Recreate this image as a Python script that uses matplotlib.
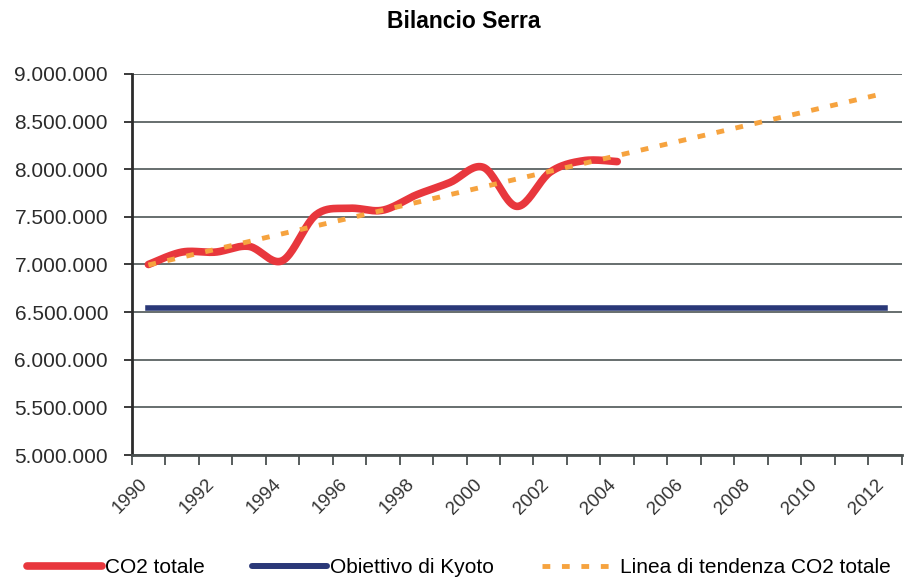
import numpy as np
import matplotlib.pyplot as plt
import matplotlib.transforms as mtransforms
from matplotlib.lines import Line2D
from matplotlib.ticker import FuncFormatter, MultipleLocator

plt.rcParams['font.family'] = ['Liberation Sans', 'DejaVu Sans']

# dati
anni = list(range(1990, 2005))
co2_totale = [7000000, 7130000, 7130000, 7190000, 7040000, 7520000, 7590000,
              7570000, 7730000, 7860000, 8020000, 7610000, 7970000, 8090000,
              8080000]
anni_kyoto = [1990, 2012]
obiettivo_kyoto = [6545000, 6545000]
anni_tendenza = [1990, 2012]
etichette_anni = list(range(1990, 2013, 2))
etichette_legenda = ['CO2 totale', 'Obiettivo di Kyoto', 'Linea di tendenza CO2 totale']

ROSSO = '#e8373d'
BLU = '#2a3878'
ARANCIO = '#f6a33f'


def smussa(x, y, n=24):
    # curva smussata tipo Excel (Bezier con punti di controllo a 1/6)
    x = np.asarray(x, float)
    y = np.asarray(y, float)
    px = np.concatenate([[x[0]], x, [x[-1]]])
    py = np.concatenate([[y[0]], y, [y[-1]]])
    t = np.linspace(0, 1, n)[:, None]
    out = []
    for i in range(len(x) - 1):
        p0 = np.array([px[i], py[i]])
        p1 = np.array([px[i + 1], py[i + 1]])
        p2 = np.array([px[i + 2], py[i + 2]])
        p3 = np.array([px[i + 3], py[i + 3]])
        c1 = p1 + (p2 - p0) / 6
        c2 = p2 - (p3 - p1) / 6
        seg = ((1 - t) ** 3) * p1 + 3 * ((1 - t) ** 2) * t * c1 + 3 * (1 - t) * t ** 2 * c2 + t ** 3 * p2
        out.append(seg if i == 0 else seg[1:])
    out = np.vstack(out)
    return out[:, 0], out[:, 1]


fig = plt.figure(figsize=(9.05, 5.8), dpi=100)
ax = fig.add_axes([0.1455, 0.2155, 0.851, 0.657])

coef = np.polyfit(anni, co2_totale, 1)
tend = np.polyval(coef, anni_tendenza)

sx, sy = smussa(anni, co2_totale)
ax.plot(anni_kyoto, obiettivo_kyoto, color=BLU, lw=4.0, solid_capstyle='projecting', zorder=3)
ax.plot(sx, sy, color=ROSSO, lw=5.5, solid_capstyle='round', zorder=4)
ax.plot(anni_tendenza, tend, color=ARANCIO, lw=3.5, dashes=(1.6, 2.4),
        dash_capstyle='butt', zorder=5)

ax.set_xlim(1989.5, 2012.5)
ax.set_ylim(5000000, 9000000)
ax.yaxis.set_major_locator(MultipleLocator(500000))
ax.yaxis.set_major_formatter(FuncFormatter(lambda v, p: f'{v:,.0f}'.replace(',', '.')))
ax.set_xticks(etichette_anni)
ax.set_xticklabels([str(a) for a in etichette_anni])
ax.set_xticks(np.arange(1989.5, 2013, 1), minor=True)

ax.grid(axis='y', color='#5b6262', lw=1.3)
ax.set_axisbelow(True)
for s in ['top', 'right']:
    ax.spines[s].set_visible(False)
ax.spines['left'].set_linewidth(2)
ax.spines['left'].set_color('#2b2b2b')
ax.spines['bottom'].set_linewidth(2)
ax.spines['bottom'].set_color('#4a5050')

ax.tick_params(axis='y', length=6, width=1.3, pad=11, labelsize=15,
               colors='#2b2b2b', direction='out')
ax.tick_params(axis='x', which='major', length=0, pad=15, labelsize=13.5,
               labelcolor='#333333')
ax.tick_params(axis='x', which='minor', length=7, width=1.3, color='#4a5050',
               direction='out')

sposta = mtransforms.ScaledTranslation(-10 / 100, 0, fig.dpi_scale_trans)
for lab in ax.get_xticklabels():
    lab.set_rotation(45)
    lab.set_ha('right')
    lab.set_va('top')
    lab.set_rotation_mode('anchor')
    lab.set_transform(lab.get_transform() + sposta)

fig.text(0.512, 0.963, 'Bilancio Serra', ha='center', va='center',
         fontsize=16.5, fontweight='bold')

maniglie = [
    Line2D([], [], color=ROSSO, lw=5.5, solid_capstyle='round'),
    Line2D([], [], color=BLU, lw=4.3, solid_capstyle='round'),
    Line2D([], [], color=ARANCIO, lw=3.5, dashes=(1.6, 2.4), dash_capstyle='butt'),
]
fig.legend(maniglie, etichette_legenda, ncol=3, loc='center',
           bbox_to_anchor=(0.507, 0.021), frameon=False, fontsize=15,
           handlelength=3.6, handletextpad=0.15, columnspacing=2.3)

fig.savefig('out.png', dpi=100)
